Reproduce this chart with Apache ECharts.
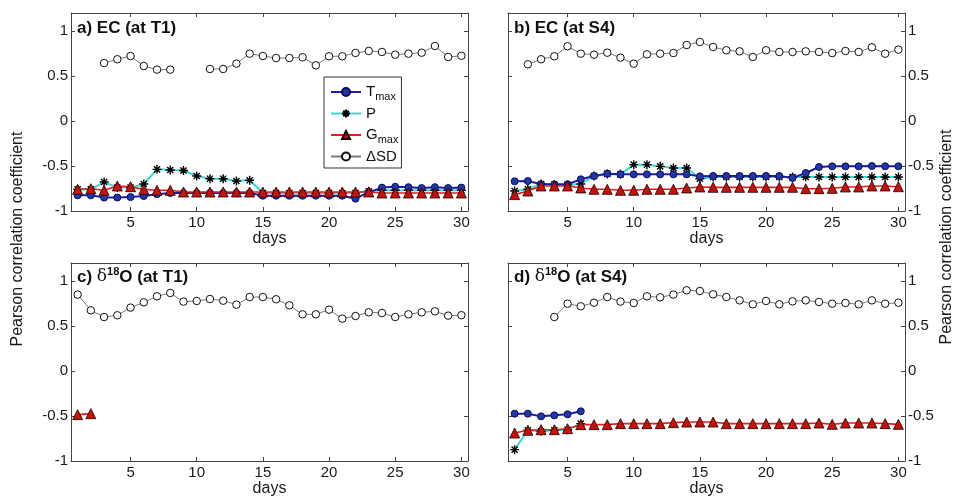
<!DOCTYPE html>
<html>
<head>
<meta charset="utf-8">
<script src="https://cdn.jsdelivr.net/npm/echarts@6/dist/echarts.min.js"></script>
<style>
html,body{margin:0;padding:0;background:#fff;}
#chart{width:957px;height:498px;}
</style>
</head>
<body>
<div id="chart"></div>
<script>
// ---------- data ----------
const days = [1,2,3,4,5,6,7,8,9,10,11,12,13,14,15,16,17,18,19,20,21,22,23,24,25,26,27,28,29,30];
const xTicks = [5,10,15,20,25,30];
const yTicks = [-1,-0.5,0,0.5,1];
const seriesNames = ['Tmax','P','Gmax','ΔSD'];
const yAxisTitle = 'Pearson correlation coefficient';
const xAxisTitle = 'days';

// a) EC at T1
const aTmax = [-0.826,-0.826,-0.851,-0.851,-0.845,-0.833,-0.814,-0.80,-0.80,-0.80,-0.80,-0.80,-0.80,-0.80,-0.83,-0.83,-0.83,-0.83,-0.83,-0.83,-0.83,-0.863,-0.79,-0.74,-0.73,-0.735,-0.745,-0.735,-0.745,-0.74];
const aP    = [-0.76,-0.76,-0.678,-0.74,-0.74,-0.70,-0.537,-0.544,-0.55,-0.611,-0.641,-0.641,-0.667,-0.659,-0.80,-0.80,-0.80,-0.80,-0.80,-0.80,-0.80,-0.80,-0.78,-0.77,-0.77,-0.77,-0.77,-0.77,-0.77,-0.77];
const aGmax = [-0.759,-0.752,-0.77,-0.722,-0.73,-0.76,-0.77,-0.77,-0.789,-0.789,-0.789,-0.789,-0.789,-0.789,-0.789,-0.789,-0.789,-0.789,-0.789,-0.789,-0.789,-0.789,-0.789,-0.80,-0.80,-0.80,-0.80,-0.80,-0.80,-0.80];
const aDSD  = [null,null,0.644,0.686,0.722,0.611,0.571,0.571,null,null,0.578,0.578,0.637,0.748,0.722,0.700,0.700,0.708,0.619,0.719,0.719,0.756,0.778,0.767,0.737,0.748,0.759,0.833,0.711,0.725];

// b) EC at S4
const bTmax = [-0.67,-0.667,-0.703,-0.703,-0.703,-0.648,-0.611,-0.585,-0.593,-0.593,-0.593,-0.593,-0.593,-0.593,-0.615,-0.611,-0.611,-0.611,-0.611,-0.611,-0.611,-0.633,-0.578,-0.511,-0.504,-0.504,-0.504,-0.50,-0.503,-0.503];
const bP    = [-0.778,-0.759,-0.70,-0.71,-0.71,-0.70,-0.611,-0.588,-0.593,-0.485,-0.485,-0.504,-0.522,-0.522,-0.641,-0.622,-0.622,-0.622,-0.622,-0.622,-0.622,-0.622,-0.622,-0.622,-0.622,-0.622,-0.622,-0.622,-0.622,-0.622];
const bGmax = [-0.818,-0.778,-0.722,-0.722,-0.722,-0.744,-0.759,-0.759,-0.77,-0.77,-0.759,-0.759,-0.759,-0.744,-0.733,-0.737,-0.737,-0.737,-0.737,-0.737,-0.737,-0.737,-0.752,-0.752,-0.748,-0.733,-0.733,-0.722,-0.722,-0.73];
const bDSD  = [null,0.63,0.686,0.719,0.83,0.748,0.737,0.759,0.704,0.637,0.741,0.748,0.755,0.844,0.878,0.822,0.786,0.774,0.711,0.786,0.767,0.767,0.774,0.767,0.755,0.778,0.767,0.819,0.748,0.793];

// c) d18O at T1
const cTmax = [null,null,null,null,null,null,null,null,null,null,null,null,null,null,null,null,null,null,null,null,null,null,null,null,null,null,null,null,null,null];
const cP    = [null,null,null,null,null,null,null,null,null,null,null,null,null,null,null,null,null,null,null,null,null,null,null,null,null,null,null,null,null,null];
const cGmax = [-0.485,-0.474,null,null,null,null,null,null,null,null,null,null,null,null,null,null,null,null,null,null,null,null,null,null,null,null,null,null,null,null];
const cDSD  = [0.849,0.674,0.6,0.619,0.704,0.763,0.83,0.867,0.771,0.778,0.8,0.781,0.737,0.822,0.822,0.797,0.73,0.63,0.63,0.681,0.582,0.611,0.652,0.644,0.6,0.63,0.652,0.663,0.615,0.62];

// d) d18O at S4
const dTmax = [-0.474,-0.474,-0.504,-0.493,-0.481,-0.448,null,null,null,null,null,null,null,null,null,null,null,null,null,null,null,null,null,null,null,null,null,null,null,null];
const dP    = [-0.874,-0.659,-0.67,-0.659,-0.652,-0.585,null,null,null,null,null,null,null,null,null,null,null,null,null,null,null,null,null,null,null,null,null,null,null,null];
const dGmax = [-0.689,-0.659,-0.652,-0.652,-0.641,-0.596,-0.596,-0.596,-0.585,-0.585,-0.585,-0.585,-0.574,-0.567,-0.567,-0.567,-0.585,-0.585,-0.585,-0.585,-0.585,-0.585,-0.585,-0.578,-0.593,-0.578,-0.578,-0.578,-0.585,-0.593];
const dDSD  = [null,null,null,0.6,0.748,0.719,0.759,0.822,0.771,0.756,0.83,0.819,0.849,0.897,0.889,0.852,0.822,0.785,0.741,0.778,0.741,0.774,0.785,0.767,0.748,0.756,0.741,0.785,0.748,0.759];

const panels = [
  [aTmax,aP,aGmax,aDSD],
  [bTmax,bP,bGmax,bDSD],
  [cTmax,cP,cGmax,cDSD],
  [dTmax,dP,dGmax,dDSD]
];

// ---------- layout / style ----------
const FONT = 'Liberation Sans, Arial, sans-serif';
const AX = '#444';
const gridPos = [
  {left:71, top:13, width:397, height:198},
  {left:508, top:13, width:397, height:198},
  {left:71, top:263, width:397, height:198},
  {left:508, top:263, width:397, height:198}
];
const ySide = ['left','right','left','right'];
const asterisk = 'path://M5,0L5,10M0,5L10,5M1.6,1.6L8.4,8.4M1.6,8.4L8.4,1.6';

const styles = [
  {line:{color:'#1b1ba6', width:2}, symbol:'circle', size:7, item:{color:'#2038a0', borderColor:'#0d0d60', borderWidth:1}, z:3},
  {line:{color:'#3fd6d0', width:2}, symbol:asterisk, size:9, item:{color:'#000', borderColor:'#000', borderWidth:1.4}, z:2},
  {line:{color:'#e0201c', width:1.6}, symbol:'triangle', size:10, item:{color:'#c0140f', borderColor:'#1a0000', borderWidth:0.8}, z:4},
  {line:{color:'#7a7a7a', width:1}, symbol:'circle', size:7.5, item:{color:'#fff', borderColor:'#111', borderWidth:1}, z:5}
];

const grid = [], xAxis = [], yAxis = [], series = [], title = [];
gridPos.forEach((g, i) => {
  grid.push(Object.assign({containLabel:false}, g));
  xAxis.push({
    type:'value', gridIndex:i, position:'bottom', min:0.5, max:30.5,
    axisLine:{show:true, onZero:false, lineStyle:{color:AX, width:1}},
    axisTick:{show:true, inside:true, length:4, customValues:xTicks, lineStyle:{color:AX}},
    axisLabel:{show:true, customValues:xTicks, fontSize:15, color:'#1a1a1a', fontFamily:FONT, margin:4},
    splitLine:{show:false},
    name:xAxisTitle, nameLocation:'middle', nameGap:20,
    nameTextStyle:{fontSize:16, color:'#1a1a1a', fontFamily:FONT}
  });
  xAxis.push({
    type:'value', gridIndex:i, position:'top', min:0.5, max:30.5,
    axisLine:{show:true, onZero:false, lineStyle:{color:AX, width:1}},
    axisTick:{show:true, inside:true, length:4, customValues:xTicks, lineStyle:{color:AX}},
    axisLabel:{show:false}, splitLine:{show:false}
  });
  const side = ySide[i];
  yAxis.push({
    type:'value', gridIndex:i, position:side, min:-1, max:1.2,
    axisLine:{show:true, onZero:false, lineStyle:{color:AX, width:1}},
    axisTick:{show:true, inside:true, length:4, customValues:yTicks, lineStyle:{color:AX}},
    axisLabel:{show:true, customValues:yTicks, fontSize:15, color:'#1a1a1a', fontFamily:FONT, margin:3},
    splitLine:{show:false}
  });
  yAxis.push({
    type:'value', gridIndex:i, position: side === 'left' ? 'right' : 'left', min:-1, max:1.2,
    axisLine:{show:true, onZero:false, lineStyle:{color:AX, width:1}},
    axisTick:{show:true, inside:true, length:4, customValues:yTicks, lineStyle:{color:AX}},
    axisLabel:{show:false}, splitLine:{show:false}
  });
  panels[i].forEach((arr, k) => {
    const st = styles[k];
    series.push({
      type:'line', name:seriesNames[k], xAxisIndex:2*i, yAxisIndex:2*i,
      data: days.map((d, j) => [d, arr[j] == null ? '-' : arr[j]]),
      connectNulls:false,
      symbol:st.symbol, symbolSize:st.size, showAllSymbol:true,
      lineStyle:st.line, itemStyle:st.item,
      emphasis:{disabled:true}, animation:false, z:st.z
    });
  });
});

const titleText = [
  'a) EC (at T1)',
  'b) EC (at S4)',
  'c) {d|δ}{s|18}O (at T1)',
  'd) {d|δ}{s|18}O (at S4)'
];
const titlePos = [[77,17],[514,17],[77,266],[514,266]];
titleText.forEach((t, i) => {
  title.push({
    text:t, left:titlePos[i][0], top:titlePos[i][1], padding:0,
    textStyle:{fontSize:17, fontWeight:'bold', color:'#111', fontFamily:FONT, lineHeight:22,
      rich:{
        d:{fontSize:17, lineHeight:22, fontFamily:'DejaVu Serif, serif', fontWeight:'normal', color:'#111'},
        s:{fontSize:11, lineHeight:11, fontWeight:'bold', color:'#111', fontFamily:FONT, verticalAlign:'top'}
      }}
  });
});

const legendLabels = {
  'Tmax':'{b|T}{s|max}',
  'P':'{b|P}',
  'Gmax':'{b|G}{s|max}',
  'ΔSD':'{b|ΔSD}'
};

const option = {
  backgroundColor:'#fff',
  animation:false,
  title:title,
  grid:grid, xAxis:xAxis, yAxis:yAxis, series:series,
  legend:{
    data:seriesNames, orient:'vertical', left:324, top:77,
    backgroundColor:'#fff', borderColor:'#333', borderWidth:1,
    padding:[5,3,4,6], itemGap:4, itemWidth:30, itemHeight:10,
    selectedMode:false,
    formatter: n => legendLabels[n],
    textStyle:{fontFamily:FONT, color:'#111', fontSize:15,
      rich:{
        b:{fontSize:15, lineHeight:17, fontFamily:FONT, color:'#111'},
        s:{fontSize:11, lineHeight:17, fontFamily:FONT, color:'#111', padding:[9,0,0,0]}
      }}
  },
  graphic:[
    {type:'text', x:18, y:239, rotation:Math.PI/2,
      style:{text:yAxisTitle, fontSize:16, fontFamily:FONT, fill:'#1a1a1a', align:'center', verticalAlign:'middle'}},
    {type:'text', x:947, y:237, rotation:Math.PI/2,
      style:{text:yAxisTitle, fontSize:16, fontFamily:FONT, fill:'#1a1a1a', align:'center', verticalAlign:'middle'}}
  ]
};

const chart = echarts.init(document.getElementById('chart'), null, {renderer:'canvas'});
chart.setOption(option);
</script>
</body>
</html>
